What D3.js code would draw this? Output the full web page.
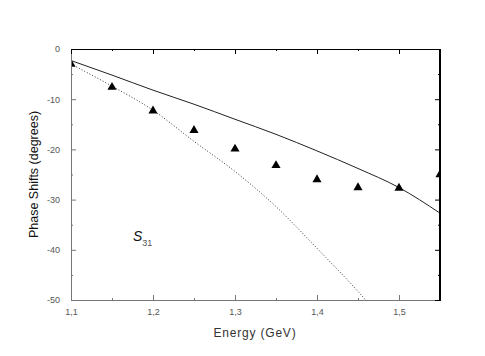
<!DOCTYPE html>
<html><head><meta charset="utf-8">
<script src="https://cdn.jsdelivr.net/npm/d3@7"></script>
<style>body{margin:0;background:#fff}svg{display:block}</style>
</head><body>
<script>
const energies = [1.10,1.15,1.20,1.25,1.30,1.35,1.40,1.45,1.50,1.55];
const measured = [-3.0,-7.6,-12.3,-16.2,-19.9,-23.2,-26.0,-27.6,-27.7,-25.0];
const solidE = [1.10,1.15,1.20,1.25,1.30,1.35,1.40,1.45,1.50,1.55];
const solidV = [-2.3,-5.2,-8.2,-11.0,-14.0,-17.0,-20.3,-23.8,-27.6,-32.7];
const dotE = [1.10,1.15,1.20,1.25,1.30,1.35,1.40,1.45,1.47];
const dotV = [-3.0,-7.4,-12.2,-18.4,-24.4,-31.4,-39.7,-48.3,-52.0];
const xTicks = [1.1,1.2,1.3,1.4,1.5];
const yTicks = [0,-10,-20,-30,-40,-50];

const W=485,H=356, L=71,R=440,T=49,B=300;
const svg=d3.select("body").append("svg").attr("width",W).attr("height",H)
  .style("font-family","'Liberation Sans',Arial,sans-serif");
const x=d3.scaleLinear().domain([1.1,1.55]).range([L,R]);
const y=d3.scaleLinear().domain([-50,0]).range([B,T]);

svg.append("clipPath").attr("id","c").append("rect").attr("x",L).attr("y",T).attr("width",R-L).attr("height",B-T);
const g=svg.append("g").attr("clip-path","url(#c)");
const line=d3.line().curve(d3.curveMonotoneX);
g.append("path").attr("d",line(solidE.map((e,i)=>[x(e),y(solidV[i])])))
  .attr("fill","none").attr("stroke","#222").attr("stroke-width",1);
g.append("path").attr("d",line(dotE.map((e,i)=>[x(e),y(dotV[i])])))
  .attr("fill","none").attr("stroke","#333").attr("stroke-width",1).attr("stroke-dasharray","1,2");
const tri=d3.symbol().type(d3.symbolTriangle).size(36);
g.selectAll(".m").data(energies).join("path").attr("d",tri())
  .attr("transform",(e,i)=>`translate(${x(e)},${y(measured[i])})`).attr("fill","#000");

// frame
svg.append("line").attr("x1",L).attr("x2",R).attr("y1",T+0.5).attr("y2",T+0.5).attr("stroke","#000");
svg.append("line").attr("x1",R-0.5).attr("x2",R-0.5).attr("y1",T).attr("y2",B).attr("stroke","#000");

const fmt=d=>d3.format(".1f")(d).replace(".",",");
const yfmt=d=>String(d);
const xb=d3.axisBottom(x).tickValues(xTicks).tickSize(-5).tickPadding(9).tickFormat(fmt);
const xbMinor=d3.axisBottom(x).tickValues([1.15,1.25,1.35,1.45,1.55]).tickSize(-2).tickFormat("");
const yl=d3.axisLeft(y).tickValues(yTicks).tickSize(-5).tickPadding(11).tickFormat(yfmt);
const ylMinor=d3.axisLeft(y).tickValues([-5,-15,-25,-35,-45]).tickSize(-2).tickFormat("");
function style(sel,col){sel.select(".domain").attr("stroke",col);sel.selectAll("line").attr("stroke",col);
  sel.selectAll("text").attr("fill","#555").style("font-size","9px");}
style(svg.append("g").attr("transform",`translate(0,${B})`).call(xb),"#777");
style(svg.append("g").attr("transform",`translate(0,${B})`).call(xbMinor),"#777");
style(svg.append("g").attr("transform",`translate(${L},0)`).call(yl),"#777");
style(svg.append("g").attr("transform",`translate(${L},0)`).call(ylMinor),"#777");
style(svg.append("g").attr("transform",`translate(0,${T})`).call(d3.axisTop(x).tickValues(xTicks).tickSize(-5).tickFormat("")),"#000");
style(svg.append("g").attr("transform",`translate(0,${T})`).call(d3.axisTop(x).tickValues([1.15,1.25,1.35,1.45]).tickSize(-2).tickFormat("")),"#000");
style(svg.append("g").attr("transform",`translate(${R},0)`).call(d3.axisRight(y).tickValues(yTicks).tickSize(-5).tickFormat("")),"#000");
style(svg.append("g").attr("transform",`translate(${R},0)`).call(d3.axisRight(y).tickValues([-5,-15,-25,-35,-45]).tickSize(-2).tickFormat("")),"#000");

svg.append("text").attr("x",255).attr("y",337).attr("text-anchor","middle")
  .style("font-size","12px").style("letter-spacing","0.8px").attr("fill","#333").text("Energy (GeV)");
svg.append("text").attr("transform",`translate(38,${(T+B)/2}) rotate(-90)`).attr("text-anchor","middle")
  .style("font-size","12.5px").attr("fill","#111").text("Phase Shifts (degrees)");
const lab=svg.append("text").attr("x",133).attr("y",241).attr("fill","#111");
lab.append("tspan").style("font-size","14px").style("font-style","italic").text("S");
lab.append("tspan").attr("dy",5).style("font-size","9px").attr("fill","#555").text("31");
</script>
</body></html>
